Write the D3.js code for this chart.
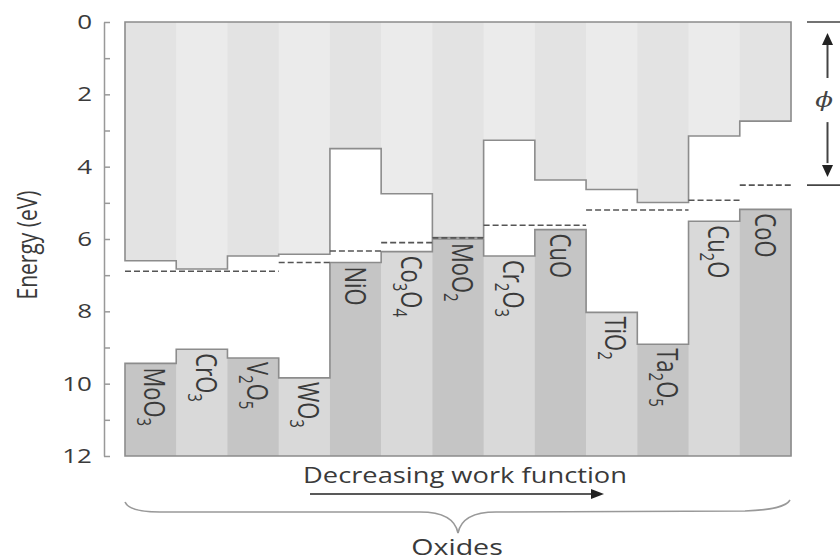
<!DOCTYPE html>
<html>
<head>
<meta charset="utf-8">
<script src="https://cdn.jsdelivr.net/npm/d3@7"></script>
<style>
  html, body { margin: 0; padding: 0; background: #fff; }
  svg { display: block; font-family: "Open Sans", "Noto Sans", sans-serif; }
</style>
</head>
<body>
<svg id="chart" width="840" height="560"></svg>
<script>
// Band alignment of transition-metal oxides (energies below vacuum level, eV)
const oxides = ["MoO3", "CrO3", "V2O5", "WO3", "NiO", "Co3O4", "MoO2", "Cr2O3", "CuO", "TiO2", "Ta2O5", "Cu2O", "CoO"];
const conductionBand = [6.60, 6.83, 6.47, 6.42, 3.50, 4.75, 5.96, 3.27, 4.37, 4.63, 4.99, 3.15, 2.74];
const valenceBand    = [9.44, 9.05, 9.29, 9.84, 6.65, 6.35, 6.00, 6.47, 5.74, 8.03, 8.91, 5.51, 5.18];
const workFunction   = [6.89, 6.89, 6.89, 6.65, 6.33, 6.10, 5.97, 5.62, 5.62, 5.20, 5.20, 4.93, 4.51];
const energyTicks = [0, 1, 2, 3, 4, 5, 6, 7, 8, 9, 10, 11, 12];
const energyLabels = [0, 2, 4, 6, 8, 10, 12];

const svg = d3.select("#chart");
const stretch = 1.3;          // horizontal stretch applied to the typography
const textColor = "#3a3a3a";
const edgeColor = "#8c8c8c";

const x = d3.scaleBand().domain(oxides).range([125, 791]).padding(0);
const y = d3.scaleLinear().domain([0, 12]).range([22, 456]);
const bw = x.bandwidth();

const topFill = i => (i % 2 === 0 ? "#e3e3e3" : "#ebebeb");
const bandFill = i => (i % 2 === 0 ? "#c5c5c5" : "#d9d9d9");

// Region above the conduction band (vacuum level down to CB minimum)
svg.append("g").selectAll("rect")
  .data(oxides)
  .join("rect")
  .attr("x", d => x(d))
  .attr("y", y(0))
  .attr("width", bw + 0.5)
  .attr("height", (d, i) => y(conductionBand[i]) - y(0))
  .attr("fill", (d, i) => topFill(i));

// Valence band regions
svg.append("g").selectAll("rect")
  .data(oxides)
  .join("rect")
  .attr("x", d => x(d))
  .attr("y", (d, i) => y(valenceBand[i]))
  .attr("width", bw + 0.5)
  .attr("height", (d, i) => y(12) - y(valenceBand[i]))
  .attr("fill", (d, i) => bandFill(i));

const line = d3.line();
const stepPoints = vals => oxides.flatMap((d, i) => [[x(d), y(vals[i])], [x(d) + bw, y(vals[i])]]);
const x0 = x.range()[0], x1 = x.range()[1];

svg.append("path")
  .attr("d", line([[x0, y(0)], ...stepPoints(conductionBand), [x1, y(0)]]) + "Z")
  .attr("fill", "none")
  .attr("stroke", edgeColor)
  .attr("stroke-width", 1.6);

svg.append("path")
  .attr("d", line([[x0, y(12)], ...stepPoints(valenceBand), [x1, y(12)]]) + "Z")
  .attr("fill", "none")
  .attr("stroke", edgeColor)
  .attr("stroke-width", 1.6);

// Fermi levels: neighbouring oxides with equal values share one dashed run
const runs = [];
workFunction.forEach((v, i) => {
  const last = runs[runs.length - 1];
  if (last && last.value === v) last.end = i;
  else runs.push({ value: v, start: i, end: i });
});
svg.append("g").selectAll("line")
  .data(runs)
  .join("line")
  .attr("x1", r => x(oxides[r.start]))
  .attr("x2", r => x(oxides[r.end]) + bw)
  .attr("y1", r => y(r.value))
  .attr("y2", r => y(r.value))
  .attr("stroke", "#555")
  .attr("stroke-width", 1.6)
  .attr("stroke-dasharray", "6,3");

// Oxide labels, rotated, with numeric subscripts
const capH = 22 * 0.714 * stretch;
oxides.forEach((name, i) => {
  const parts = name.match(/[A-Za-z]+|\d+/g);
  const hasSub = parts.some(p => /\d/.test(p));
  const cx = x(name) + bw / 2;
  const bx = cx - capH / 2 + (hasSub ? 4 : 0);
  const t = svg.append("text")
    .attr("transform", `translate(${bx},${y(valenceBand[i]) + 4}) scale(${stretch},1) rotate(90)`)
    .attr("fill", textColor)
    .attr("font-size", 22);
  let shifted = false;
  parts.forEach(p => {
    const isSub = /\d/.test(p);
    const ts = t.append("tspan").text(p);
    if (isSub) {
      ts.attr("font-size", 15).attr("dy", 6);
      shifted = true;
    } else {
      ts.attr("font-size", 22);
      if (shifted) { ts.attr("dy", -6); shifted = false; }
    }
  });
});

// Energy axis
const axis = d3.axisLeft(y)
  .tickValues(energyTicks)
  .tickSizeInner(-6)
  .tickSizeOuter(0)
  .tickPadding(0)
  .tickFormat(d => (energyLabels.includes(d) ? d : ""));
const gAxis = svg.append("g").attr("transform", "translate(104,0)").call(axis);
gAxis.select(".domain").attr("stroke", "#999").attr("stroke-width", 1.5);
gAxis.selectAll(".tick line").attr("stroke", "#999").attr("stroke-width", 1.5);
gAxis.selectAll(".tick text")
  .attr("x", null)
  .attr("transform", `translate(-12,0) scale(${stretch},1)`)
  .attr("font-family", "\"Open Sans\", sans-serif")
  .attr("font-size", 20)
  .attr("fill", textColor);

svg.append("text")
  .attr("transform", `translate(37,245) scale(${stretch},1) rotate(-90)`)
  .attr("text-anchor", "middle")
  .attr("font-size", 21)
  .attr("fill", textColor)
  .text("Energy (eV)");

// Work function indicator on the right
const phiTop = y(0), phiBot = y(workFunction[workFunction.length - 1]);
const gPhi = svg.append("g").attr("stroke", "#444").attr("stroke-width", 1.6);
gPhi.append("line").attr("x1", 807).attr("x2", 840).attr("y1", phiTop).attr("y2", phiTop);
gPhi.append("line").attr("x1", 807).attr("x2", 840).attr("y1", phiBot).attr("y2", phiBot);
gPhi.append("line").attr("x1", 827.5).attr("x2", 827.5).attr("y1", phiTop + 18).attr("y2", phiTop + 56).attr("stroke-width", 2);
gPhi.append("line").attr("x1", 827.5).attr("x2", 827.5).attr("y1", phiBot - 63).attr("y2", phiBot - 22).attr("stroke-width", 2);
svg.append("path")
  .attr("d", `M827.5,${phiTop + 11} L822,${phiTop + 23} L833,${phiTop + 23} Z`)
  .attr("fill", "#222");
svg.append("path")
  .attr("d", `M827.5,${phiBot - 8} L822,${phiBot - 20} L833,${phiBot - 20} Z`)
  .attr("fill", "#222");
svg.append("text")
  .attr("transform", `translate(824,${(phiTop + phiBot) / 2 - 4}) scale(${stretch},1)`)
  .attr("text-anchor", "middle")
  .attr("dy", "0.35em")
  .attr("font-family", "\"DejaVu Serif\", serif")
  .attr("font-style", "italic")
  .attr("font-size", 20)
  .attr("fill", "#444")
  .text("\u03D5");

// Trend arrow and caption
svg.append("text")
  .attr("transform", `translate(465,483) scale(${stretch},1)`)
  .attr("text-anchor", "middle")
  .attr("font-size", 21)
  .attr("fill", textColor)
  .text("Decreasing work function");
svg.append("line")
  .attr("x1", 310).attr("x2", 594).attr("y1", 494).attr("y2", 494)
  .attr("stroke", "#222").attr("stroke-width", 1.6);
svg.append("path")
  .attr("d", "M604,494 L591,489 L591,499 Z")
  .attr("fill", "#222");

// Brace grouping all oxides
svg.append("path")
  .attr("d", "M125,502 C128,509 140,512 160,512 L420,512 C441,512 455,518 458,533 C461,518 475,512 496,512 L745,511 C772,510 786,507 790,500")
  .attr("fill", "none")
  .attr("stroke", "#999")
  .attr("stroke-width", 1.6);

svg.append("text")
  .attr("transform", `translate(457,555) scale(${stretch},1)`)
  .attr("text-anchor", "middle")
  .attr("font-size", 22)
  .attr("fill", textColor)
  .text("Oxides");
</script>
</body>
</html>
